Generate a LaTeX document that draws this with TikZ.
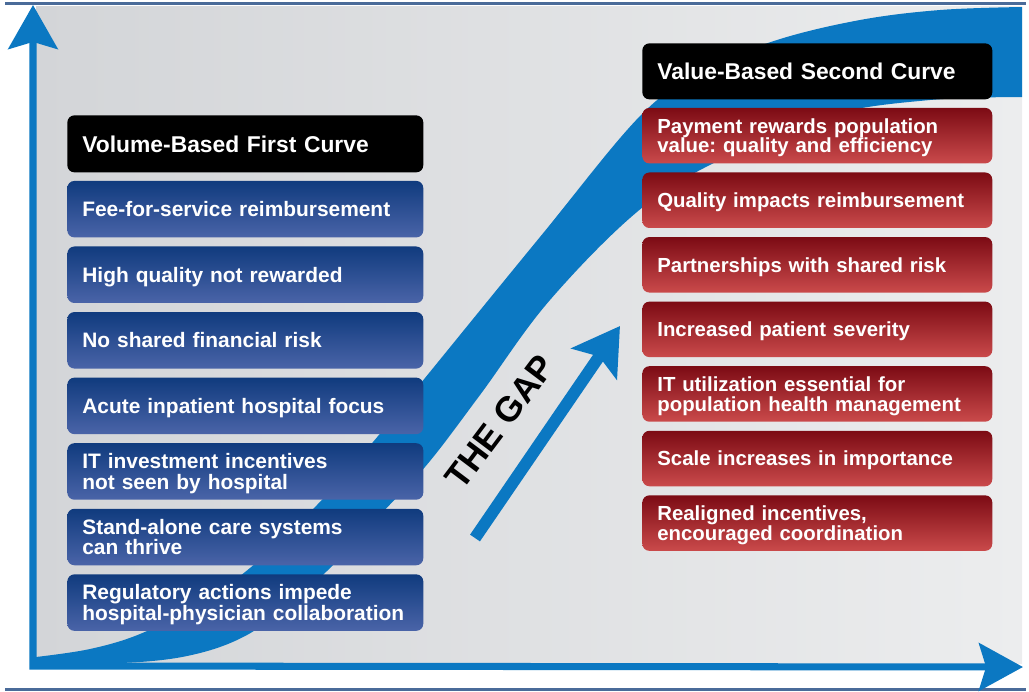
\documentclass[tikz,border=0pt]{standalone}
\usepackage{fontspec}
\setmainfont{Liberation Sans}
\usepackage{xcolor}
\usepackage{tikz}
\usetikzlibrary{arrows.meta}
\hyphenpenalty=10000
\exhyphenpenalty=10000
\frenchspacing
\definecolor{frame}{HTML}{4A6B99}
\definecolor{panelL}{HTML}{D3D5D8}
\definecolor{panelM}{HTML}{F3F3F4}
\definecolor{panelR}{HTML}{ECEDEE}
\definecolor{curve}{HTML}{0B78C2}
\definecolor{volhi}{HTML}{103B7E}
\definecolor{vollo}{HTML}{4A64A8}
\definecolor{valhi}{HTML}{7C0B14}
\definecolor{vallo}{HTML}{CA4A4B}
\tikzset{
  axis/.style={draw=curve, line width=4pt},
  band/.style={fill=curve},
  gaparr/.style={draw=curve, line width=6.8pt, -{Stealth[length=26pt,width=31pt,inset=5pt]}},
  card/.style={rounded corners=4pt, text=white, anchor=north west, align=left, inner ysep=1pt, inner xsep=0.3cm},
  volhead/.style={card, fill=black, text width=6.52cm, minimum height=1.14cm, font=\fontsize{13}{14}\selectfont\bfseries},
  valhead/.style={card, fill=black, text width=6.4cm, minimum height=1.12cm, font=\fontsize{13}{14}\selectfont\bfseries},
  volbox/.style={card, top color=volhi, bottom color=vollo, text width=6.52cm, minimum height=1.13cm, text height=8.5pt, font=\fontsize{11.9}{11.5}\selectfont\bfseries},
  valbox/.style={card, top color=valhi, bottom color=vallo, text width=6.4cm, minimum height=1.11cm, text height=8.3pt, font=\fontsize{11.6}{11.3}\selectfont\bfseries},
  gaplab/.style={font=\fontsize{20}{20}\selectfont\bfseries, text=black, inner sep=0pt},
}

\begin{document}
\begin{tikzpicture}[x=0.02cm, y=-0.02cm]
  \useasboundingbox (0,0) rectangle (1029,691);
  % panel and frame
  \fill[left color=panelL, middle color=panelM, right color=panelR] (36,6) rectangle (1022,663);
  \draw[frame, line width=2pt] (5,3.3) -- (1026,3.3);
  \draw[frame, line width=2.2pt] (5,689.5) -- (1026,689.5);

  % second curve band
  \fill[band] plot[smooth, tension=0.6] coordinates {(36,657) (90,649) (140,634) (195,606) (250,568) (317,505) (373,442) (425,378) (540,237) (643,113) (710,68) (777,40) (860,20) (940,10) (1022,7)}
    -- plot[smooth, tension=0.6] coordinates {(1022,97) (930,100) (830,115) (730,155) (643,207) (550,300) (480,395) (425,467) (370,525) (327,571) (285,607) (247,635) (200,653) (140,662) (36,665)} -- cycle;

  % axes
  \coordinate (ytop) at (33,5);
  \coordinate (origin) at (33,666);
  \coordinate (xend) at (1023,667);
  \draw[axis, {Stealth[length=25pt,width=28pt,inset=4pt]}-{Stealth[length=25pt,width=27pt,inset=4pt]}] (ytop) -- (origin) -- (xend);

  % volume side
  \node[volhead] (vol0) at (67,115) {Volume-Based First Curve};
  \foreach \i/\d/\t in {1/0pt/{Fee-for-service reimbursement}, 2/0pt/{High quality not rewarded}, 3/0pt/{No shared financial risk}, 4/0pt/{Acute inpatient hospital focus}, 5/11.5pt/{IT investment incentives\\not seen by hospital}, 6/11.5pt/{Stand-alone care systems\\can thrive}, 7/11.5pt/{Regulatory actions impede\\hospital-physician collaboration}}
    \node[volbox, text depth=\d] (vol\i) at (67,{115+65.57*\i}) {\t};

  % value side
  \node[valhead] (val0) at (642,43) {Value-Based Second Curve};
  \foreach \i/\d/\t in {1/11.3pt/{Payment rewards population\\value: quality and efficiency}, 2/0pt/{Quality impacts reimbursement}, 3/0pt/{Partnerships with shared risk}, 4/0pt/{Increased patient severity}, 5/11.3pt/{IT utilization essential for\\population health management}, 6/0pt/{Scale increases in importance}, 7/11.3pt/{Realigned incentives,\\encouraged coordination}}
    \node[valbox, text depth=\d] (val\i) at (642,{43+64.57*\i}) {\t};

  % the gap
  \coordinate (gapfrom) at (475,538);
  \coordinate (gapto) at (620,326);
  \draw[gaparr] (gapfrom) -- (gapto);
  \node[gaplab, rotate=53] (gap) at (500,422) {THE GAP};
\end{tikzpicture}
\end{document}
